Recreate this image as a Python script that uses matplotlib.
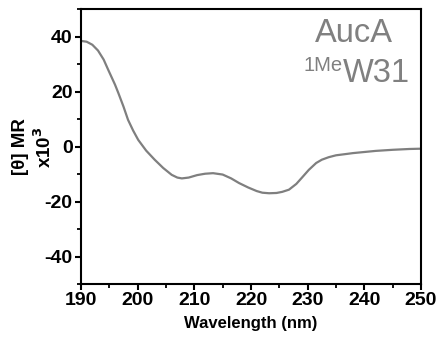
import numpy as np
import matplotlib.pyplot as plt
from matplotlib.ticker import MultipleLocator

plt.rcParams['font.family'] = ['Liberation Sans', 'DejaVu Sans']
plt.rcParams['axes.unicode_minus'] = False

# CD spectrum
wavelength = [190, 191, 192, 193, 194, 194.8, 196, 196.6, 197.5, 198.3, 199.2, 200.1,
              201.5, 203, 204.5, 206, 207, 207.8, 209, 210.5, 211.9, 213.3, 215,
              216.5, 217.9, 219.5, 221, 222, 223.2, 224.5, 225.5, 226.7, 228,
              229, 230.2, 231.5, 232.5, 233.7, 235, 236.9, 238, 240, 242, 245,
              248, 250]
theta = [38.4, 38.1, 37.0, 34.9, 31.6, 27.9, 22.5, 19.4, 14.5, 9.7, 5.8, 2.4,
         -1.5, -4.8, -7.8, -10.3, -11.3, -11.6, -11.3, -10.4, -9.9, -9.7, -10.2,
         -11.6, -13.3, -14.9, -16.2, -16.8, -17.0, -16.9, -16.5, -15.7, -13.6,
         -11.3, -8.5, -6.0, -4.8, -3.9, -3.2, -2.7, -2.4, -2.0, -1.6, -1.2,
         -0.9, -0.8]

W, H = 439.0, 343.0
fig = plt.figure(figsize=(W / 100, H / 100), dpi=100)
ax = fig.add_axes([81 / W, 1 - 284 / H, 340 / W, 275 / H])

ax.plot(wavelength, theta, color='#7f7f7f', lw=1.6)

ax.set_xlim(190, 250)
ax.set_ylim(-50, 50)
ax.xaxis.set_major_locator(MultipleLocator(10))
ax.xaxis.set_minor_locator(MultipleLocator(5))
ax.yaxis.set_major_locator(MultipleLocator(20))
ax.yaxis.set_minor_locator(MultipleLocator(10))
ax.set_yticks([-40, -20, 0, 20, 40])

for s in ax.spines.values():
    s.set_linewidth(1.5)
ax.tick_params(which='major', direction='out', length=4, width=1.5, pad=2,
               labelsize=14, top=False, right=False)
ax.tick_params(which='minor', direction='out', length=3, width=1.3,
               top=False, right=False)
for lab in ax.get_xticklabels() + ax.get_yticklabels():
    lab.set_fontweight('bold')

ax.set_xlabel('Wavelength (nm)', fontsize=12, fontweight='bold', labelpad=5)
fig.text(33.5 / W, 1 - 147 / H, '[\u03b8] MR\nx10$^{\\mathbf{3}}$', rotation=90,
         ha='center', va='center', fontsize=13.5, fontweight='bold',
         linespacing=1.25)

# sample label in the upper right
fig.text(393 / W, 1 - 41.7 / H, 'AucA', fontsize=23.5, color='#808080',
         ha='right', va='baseline')
w31 = fig.text(410 / W, 1 - 81.7 / H, 'W31', fontsize=23.5, color='#808080',
               ha='right', va='baseline')
ax.annotate('1Me', xy=(0, 1), xycoords=w31, xytext=(0, 1),
            textcoords='offset points', fontsize=14.5, color='#808080',
            ha='right', va='top', annotation_clip=False)

fig.savefig('out.png', dpi=100)
